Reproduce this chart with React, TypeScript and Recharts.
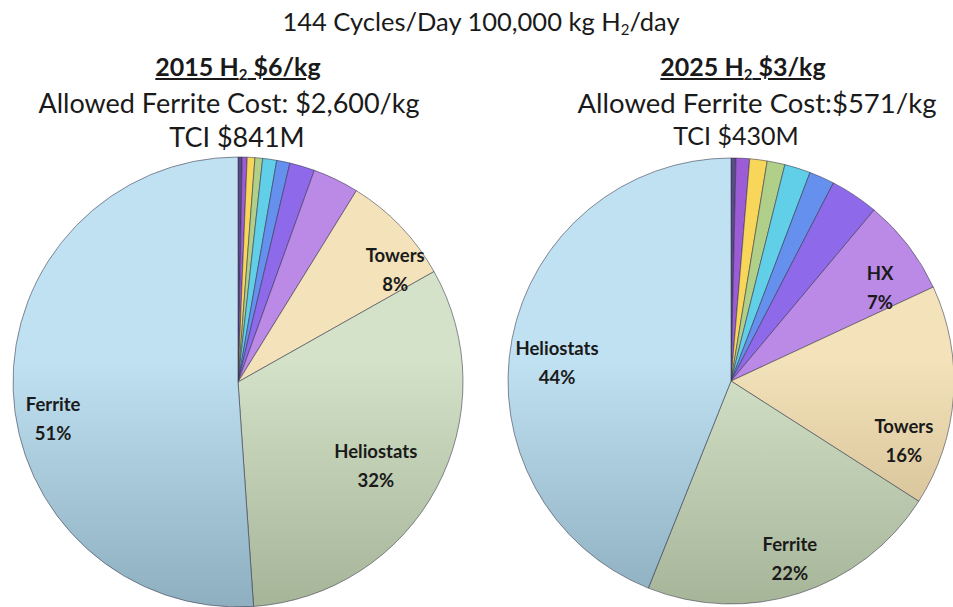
import React from "react";
import { PieChart, Pie, Cell } from "recharts";

// slices run clockwise from 12 o'clock
const leftNames = ["Item 1", "Item 2", "Item 3", "Item 4", "Item 5", "Item 6", "Item 7", "HX", "Towers", "Heliostats", "Ferrite"];
const leftValues = [0.3, 0.35, 0.55, 0.55, 1.0, 0.95, 1.8, 3.3, 8, 32, 51];

const rightNames = ["Item 1", "Item 2", "Item 3", "Item 4", "Item 5", "Item 6", "Item 7", "HX", "Towers", "Ferrite", "Heliostats"];
const rightValues = [0.36, 0.98, 1.26, 1.29, 1.88, 1.83, 3.5, 7, 16, 22, 44];

const leftLabelled = ["Towers", "Heliostats", "Ferrite"];
const rightLabelled = ["HX", "Towers", "Ferrite", "Heliostats"];

const leftData = leftNames.map((name, i) => ({ name, value: leftValues[i] }));
const rightData = rightNames.map((name, i) => ({ name, value: rightValues[i] }));

// top / bottom shades, by slice position
const SHADES = [
  ["#5b4a8a", "#3d2f60"],
  ["#9c5cd6", "#6b3aa0"],
  ["#f7d65a", "#c9a530"],
  ["#b0cf88", "#86a060"],
  ["#62cfe8", "#3aa0bc"],
  ["#6690ee", "#4065c0"],
  ["#8e6aea", "#6448c0"],
  ["#bb8ae6", "#8f62c0"],
  ["#f3e2ba", "#c9b288"],
  ["#d3e2c8", "#a6b498"],
  ["#bfe1f2", "#8eafc0"],
];

// label placement: fraction of radius, and angle nudge from the slice middle (deg)
const leftLabelPos: Record<string, [number, number]> = {
  Towers: [0.865, -7.7],
  Heliostats: [0.71, -2.1],
  Ferrite: [0.835, 8.3],
};
const rightLabelPos: Record<string, [number, number]> = {
  HX: [0.795, -4.7],
  Towers: [0.816, -14.3],
  Ferrite: [0.828, 0.8],
  Heliostats: [0.786, 3.9],
};

const RADIAN = Math.PI / 180;

const makeLabel = (shown: string[], pos: Record<string, [number, number]>) => (props: any) => {
  const { cx, cy, midAngle, outerRadius, name, value } = props;
  if (!shown.includes(name)) return null;
  const [f, nudge] = pos[name] ?? [0.8, 0];
  const r = outerRadius * f;
  const a = midAngle + nudge;
  const x = cx + r * Math.cos(-a * RADIAN);
  const y = cy + r * Math.sin(-a * RADIAN);
  return (
    <g>
      <text x={x} y={y - 5} textAnchor="middle" fill="#1a1a1a" fontSize={18.5} fontWeight="bold" fontFamily="Lato, sans-serif">
        {name}
      </text>
      <text x={x} y={y + 24} textAnchor="middle" fill="#1a1a1a" fontSize={18.5} fontWeight="bold" fontFamily="Lato, sans-serif">
        {value}%
      </text>
    </g>
  );
};

const line = (cx: number, top: number, size: number, bold = false): React.CSSProperties => ({
  position: "absolute",
  left: cx - 300,
  width: 600,
  top,
  textAlign: "center",
  fontSize: size,
  lineHeight: `${size}px`,
  fontWeight: bold ? "bold" : "normal",
  textDecoration: bold ? "underline" : "none",
  whiteSpace: "nowrap",
});

const subStyle: React.CSSProperties = { fontSize: 15, lineHeight: 0, verticalAlign: "-0.25em" };

const App = () => (
  <div style={{ position: "absolute", left: 0, top: 0, width: 953, height: 607, background: "#fff", fontFamily: "Lato, sans-serif", color: "#1a1a1a", overflow: "hidden" }}>
    <PieChart width={953} height={607} margin={{ top: 0, right: 0, bottom: 0, left: 0 }}>
      <defs>
        {SHADES.map(([top, bottom], i) => (
          <linearGradient key={i} id={`shade${i}`} gradientUnits="userSpaceOnUse" x1={0} y1={158} x2={0} y2={606}>
            <stop offset="0%" stopColor={top} />
            <stop offset="45%" stopColor={top} />
            <stop offset="100%" stopColor={bottom} />
          </linearGradient>
        ))}
      </defs>
      <Pie
        data={leftData}
        dataKey="value"
        nameKey="name"
        cx={238}
        cy={382}
        outerRadius={225}
        startAngle={90}
        endAngle={-270}
        labelLine={false}
        label={makeLabel(leftLabelled, leftLabelPos)}
        isAnimationActive={false}
      >
        {leftData.map((d, i) => (
          <Cell key={d.name} fill={`url(#shade${i})`} stroke="rgba(50,50,70,0.55)" strokeWidth={1} />
        ))}
      </Pie>
      <Pie
        data={rightData}
        dataKey="value"
        nameKey="name"
        cx={731}
        cy={381}
        outerRadius={223}
        startAngle={90}
        endAngle={-270}
        labelLine={false}
        label={makeLabel(rightLabelled, rightLabelPos)}
        isAnimationActive={false}
      >
        {rightData.map((d, i) => (
          <Cell key={d.name} fill={`url(#shade${i})`} stroke="rgba(50,50,70,0.55)" strokeWidth={1} />
        ))}
      </Pie>
    </PieChart>

    <div style={line(481, 9, 25.5)}>
      144 Cycles/Day 100,000 kg H<sub style={subStyle}>2</sub>/day
    </div>

    <div style={line(238, 54, 25, true)}>
      2015 H<sub style={subStyle}>2</sub> $6/kg
    </div>
    <div style={line(229, 89, 27)}>Allowed Ferrite Cost: $2,600/kg</div>
    <div style={line(237, 123, 27)}>TCI $841M</div>

    <div style={line(743, 54, 25, true)}>
      2025 H<sub style={subStyle}>2</sub> $3/kg
    </div>
    <div style={line(757, 89, 27.5)}>Allowed Ferrite Cost:$571/kg</div>
    <div style={line(736, 123, 25)}>TCI $430M</div>
  </div>
);

export default App;
